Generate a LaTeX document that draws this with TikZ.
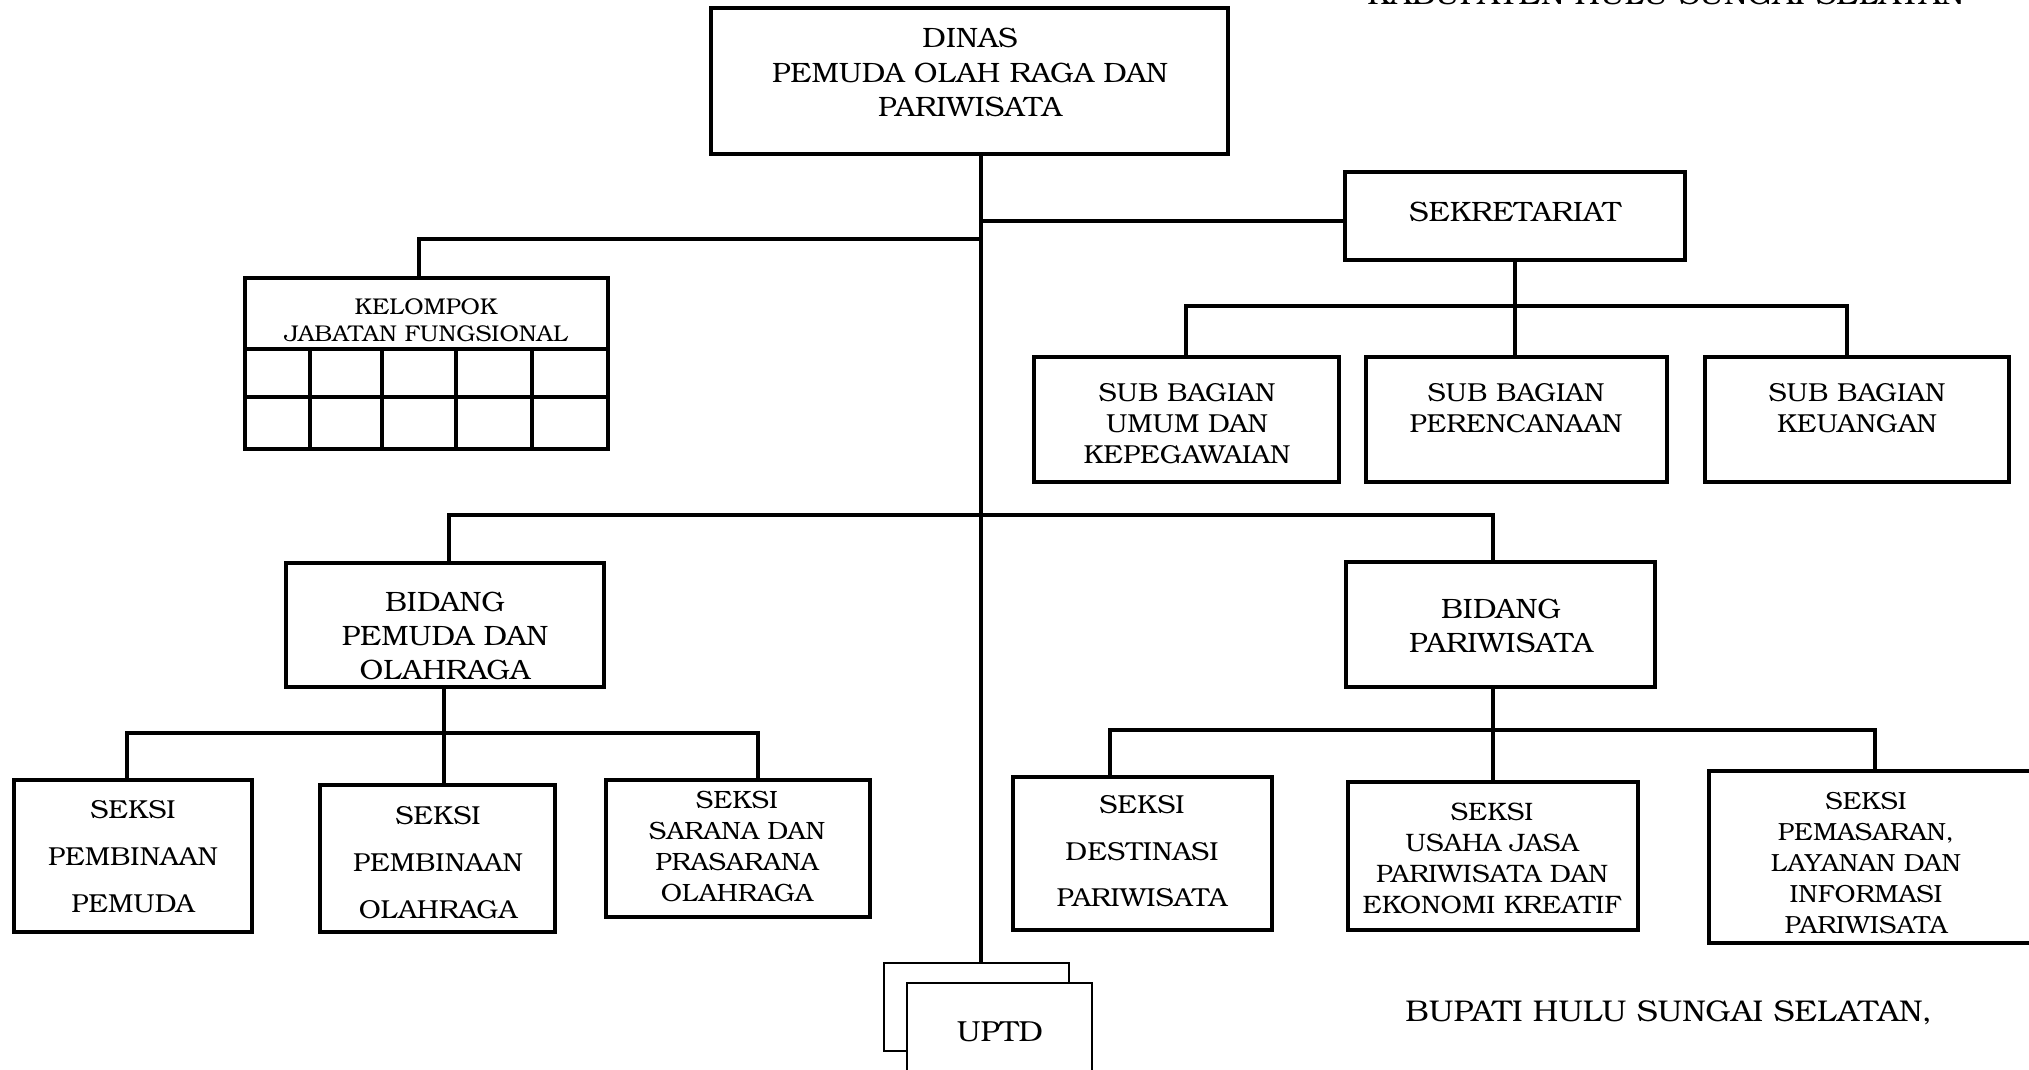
\documentclass[tikz,border=0pt]{standalone}
\usepackage{fontspec}
\setmainfont{texgyrebonum}[Extension=.otf, UprightFont=*-regular, BoldFont=*-bold, ItalicFont=*-italic, BoldItalicFont=*-bolditalic, FakeStretch=1.055]
\usetikzlibrary{fit}
\begin{document}
\begin{tikzpicture}[x=0.5pt,y=-0.5pt,
  orgbox/.style={draw, line width=2.4pt, inner sep=0pt, fill=white},
  thinbox/.style={draw, line width=1pt, inner sep=0pt, fill=white},
  conn/.style={line width=2.1pt},
  gridline/.style={line width=2pt},
  txt/.style 2 args={align=center, inner sep=0pt, font=\fontsize{#1}{#2}\selectfont}]
\useasboundingbox (0,0) rectangle (2029,1070);
\clip (0,0) rectangle (2029,1070);

% ---------- boxes ----------
\node[orgbox, fit={(711,8) (1228,154)}] (dinas) {};
\node[orgbox, fit={(245,278) (608,449)}] (kel) {};
\node[orgbox, fit={(1345,172) (1685,260)}] (sek) {};
\node[orgbox, fit={(1034,357) (1339,482)}] (sub1) {};
\node[orgbox, fit={(1366,357) (1667,482)}] (sub2) {};
\node[orgbox, fit={(1705,357) (2009,482)}] (sub3) {};
\node[orgbox, fit={(286,563) (604,687)}] (bp) {};
\node[orgbox, fit={(1346,562) (1655,687)}] (bpar) {};
\node[orgbox, fit={(14,780) (252,932)}] (s1) {};
\node[orgbox, fit={(320,785) (555,932)}] (s2) {};
\node[orgbox, fit={(606,780) (870,917)}] (s3) {};
\node[orgbox, fit={(1013,777) (1272,930)}] (r1) {};
\node[orgbox, fit={(1348,782) (1638,930)}] (r2) {};
\node[orgbox, fit={(1709,771) (2045,943)}] (r3) {};
\node[thinbox, fit={(884,963) (1069,1051)}] (uptdb) {};
\node[thinbox, fit={(907,983) (1092,1090)}] (uptdf) {};

% grid of the functional group box
\draw[gridline] (245,349) -- (608,349);
\draw[gridline] (245,397) -- (608,397);
\foreach \gx in {310,382,456,532} \draw[gridline] (\gx,349) -- (\gx,449);

% ---------- texts ----------
\node[txt={14pt}{17.4pt}] (dinas-t) at (970,72.5) {DINAS\\PEMUDA OLAH RAGA DAN\\PARIWISATA};
\node[txt={11.4pt}{13.5pt}] (kel-t) at (426,320.5) {KELOMPOK\\JABATAN FUNGSIONAL};
\node[txt={14pt}{17pt}] (sek-t) at (1515,212) {SEKRETARIAT};
\node[txt={13pt}{15.5pt}] (sub1-t) at (1187,424) {SUB BAGIAN\\UMUM DAN\\KEPEGAWAIAN};
\node[txt={13pt}{15.5pt}] (sub2-t) at (1516,408.5) {SUB BAGIAN\\PERENCANAAN};
\node[txt={13pt}{15.5pt}] (sub3-t) at (1857,408) {SUB BAGIAN\\KEUANGAN};
\node[txt={14pt}{17pt}] (bp-t) at (445,636) {BIDANG\\PEMUDA DAN\\OLAHRAGA};
\node[txt={14pt}{17pt}] (bpar-t) at (1501,625.5) {BIDANG\\PARIWISATA};
\node[txt={13pt}{23.5pt}] (s1-t) at (133,857) {SEKSI\\PEMBINAAN\\PEMUDA};
\node[txt={13pt}{23.5pt}] (s2-t) at (438,862.5) {SEKSI\\PEMBINAAN\\OLAHRAGA};
\node[txt={12.5pt}{15.5pt}] (s3-t) at (737,846.5) {SEKSI\\SARANA DAN\\PRASARANA\\OLAHRAGA};
\node[txt={13pt}{23.3pt}] (r1-t) at (1142,851.5) {SEKSI\\DESTINASI\\PARIWISATA};
\node[txt={12.6pt}{15.5pt}] (r2-t) at (1492,858.5) {SEKSI\\USAHA JASA\\PARIWISATA DAN\\EKONOMI KREATIF};
\node[txt={12.4pt}{15.5pt}] (r3-t) at (1866,863.5) {SEKSI\\PEMASARAN,\\LAYANAN DAN\\INFORMASI\\PARIWISATA};
\node[txt={14.5pt}{17pt}] (uptd-t) at (1000,1032) {UPTD};
\node[txt={15pt}{18pt}, anchor=west] (bupati) at (1405,1013) {BUPATI HULU SUNGAI SELATAN,};
\node[txt={15pt}{18pt}, anchor=base west] (kab) at (1367,5) {KABUPATEN HULU SUNGAI SELATAN};

% ---------- connectors ----------
\coordinate (js) at (981,221);
\coordinate (jk) at (981,239);
\coordinate (kx) at (419,239);
\draw[conn] (dinas.south -| jk) -- (uptdb.north -| jk);
\draw[conn] (jk) -- (kx) -- (kel.north -| kx);
\draw[conn] (js) -- (sek.west |- js);

\coordinate (sj) at (1515,306);
\coordinate (sa) at (1186,306);
\coordinate (sc) at (1847,306);
\draw[conn] (sek.south -| sj) -- (sj) -- (sub2.north -| sj);
\draw[conn] (sub1.north -| sa) -- (sa) -- (sc) -- (sub3.north -| sc);

\coordinate (ba) at (449,515);
\coordinate (bb) at (1493,515);
\draw[conn] (bp.north -| ba) -- (ba) -- (bb) -- (bpar.north -| bb);

\coordinate (la) at (127,733);
\coordinate (lb) at (444,733);
\coordinate (lc) at (758,733);
\draw[conn] (bp.south -| lb) -- (s2.north -| lb);
\draw[conn] (s1.north -| la) -- (la) -- (lc) -- (s3.north -| lc);

\coordinate (ra) at (1110,730);
\coordinate (rb) at (1493,730);
\coordinate (rc) at (1875,730);
\draw[conn] (bpar.south -| rb) -- (r2.north -| rb);
\draw[conn] (r1.north -| ra) -- (ra) -- (rc) -- (r3.north -| rc);
\end{tikzpicture}
\end{document}
